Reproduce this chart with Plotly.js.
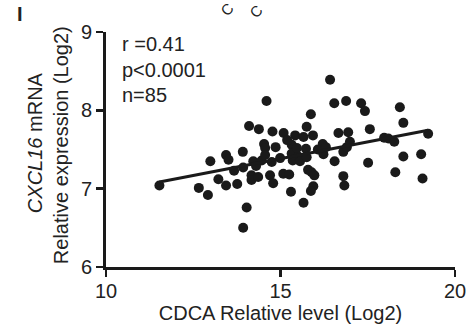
<!DOCTYPE html>
<html>
<head>
<meta charset="utf-8">
<script src="https://cdn.plot.ly/plotly-3.0.1.min.js"></script>
<style>html,body{margin:0;padding:0;background:#fff;}#chart{width:470px;height:331px;}</style>
</head>
<body>
<div id="chart"></div>
<script>
// CDCA relative level (Log2)
const cdca = [11.53,12.66,12.92,12.99,13.22,13.44,13.51,13.44,13.67,13.76,
              13.92,13.93,14.03,13.93,14.10,14.17,14.17,14.22,14.36,14.38,
              14.46,14.53,14.56,14.60,14.70,14.75,14.77,14.79,14.86,15.09,
              15.08,15.25,15.30,15.32,15.32,15.35,15.42,15.51,15.56,15.66,
              15.66,15.73,15.75,15.75,15.79,15.87,15.89,15.97,15.94,15.87,
              15.93,16.21,16.23,16.42,16.54,16.55,16.66,16.80,16.80,16.83,
              16.88,16.90,16.94,16.99,17.31,17.42,17.51,17.56,17.97,18.09,
              18.26,18.29,18.42,18.52,18.52,19.03,19.07,19.23,14.56,14.99,
              15.47,16.07,16.30,15.19,14.30];
// CXCL16 mRNA relative expression (Log2)
const cxcl16 = [7.04,7.01,6.92,7.35,7.12,7.43,7.37,7.04,7.23,7.06,
                7.47,7.27,6.76,6.50,7.80,7.17,7.11,7.35,7.15,7.76,
                7.36,7.57,7.52,8.12,7.17,7.34,7.73,7.07,7.53,7.71,
                7.19,7.18,6.96,7.56,7.45,7.36,7.68,7.41,7.35,7.66,
                6.82,7.51,7.79,7.40,7.24,7.95,7.21,7.17,7.03,6.97,
                7.68,7.57,7.44,8.39,8.09,7.35,7.71,7.47,7.16,7.04,
                8.12,7.53,7.72,7.60,8.09,7.99,7.33,7.76,7.65,7.64,
                7.60,7.21,8.04,7.84,7.41,7.44,7.13,7.70,7.43,7.39,
                7.52,7.50,7.53,7.62,7.29];
const xTicks = [10, 15, 20];
const yTicks = [6, 7, 8, 9];
const statLines = ["r =0.41", "p<0.0001", "n=85"];

// least-squares fit from the data
const n = cdca.length;
const mx = cdca.reduce((a,b)=>a+b,0)/n;
const my = cxcl16.reduce((a,b)=>a+b,0)/n;
let sxy = 0, sxx = 0;
for (let i=0;i<n;i++){ sxy += (cdca[i]-mx)*(cxcl16[i]-my); sxx += (cdca[i]-mx)**2; }
const slope = sxy/sxx, icpt = my - slope*mx;
const xmin = Math.min(...cdca), xmax = Math.max(...cdca);

const font = {family: "Liberation Sans, Arial, sans-serif", color: "#222"};
const F = s => Object.assign({size: s}, font);

const traces = [
  {x: cdca, y: cxcl16, type: "scatter", mode: "markers",
   marker: {size: 10, color: "#1a1a1a"}, cliponaxis: false, hoverinfo: "skip"},
  {x: [xmin, xmax], y: [icpt + slope*xmin, icpt + slope*xmax], type: "scatter", mode: "lines",
   line: {color: "#1a1a1a", width: 3}, hoverinfo: "skip"}
];

const W = 349, H = 234.7, L = 106, T = 32;
const px = v => (v - L)/W, py = v => (T + H - v)/H;

const annotations = statLines.map((t,i)=>({
  text: t, xref: "paper", yref: "paper", x: px(120), y: py(44 + i*25.5),
  xanchor: "left", yanchor: "middle", showarrow: false, font: F(20)
}));
annotations.push(
  {text: "<i>CXCL16</i> mRNA", xref: "paper", yref: "paper", x: px(35), y: py(143),
   textangle: -90, showarrow: false, xanchor: "center", yanchor: "middle", font: F(20)},
  {text: "Relative expression (Log2)", xref: "paper", yref: "paper", x: px(61), y: py(145),
   textangle: -90, showarrow: false, xanchor: "center", yanchor: "middle", font: F(20)},
  {text: "<b>I</b>", xref: "paper", yref: "paper", x: px(20), y: py(14),
   showarrow: false, xanchor: "center", yanchor: "middle", font: F(20)},
  {text: "C", xref: "paper", yref: "paper", x: px(227), y: py(10), textangle: -45,
   showarrow: false, xanchor: "center", yanchor: "middle", font: F(15)},
  {text: "C", xref: "paper", yref: "paper", x: px(256), y: py(12), textangle: -45,
   showarrow: false, xanchor: "center", yanchor: "middle", font: F(15)}
);

const axisCommon = {
  showline: true, linecolor: "#1a1a1a", linewidth: 3, mirror: false,
  ticks: "outside", ticklen: 7, tickwidth: 2.5, tickcolor: "#1a1a1a",
  showgrid: false, zeroline: false, fixedrange: true,
  tickfont: F(20)
};

const layout = {
  width: 470, height: 331,
  margin: {l: L, r: 470 - L - W, t: T, b: 331 - T - H},
  paper_bgcolor: "#fff", plot_bgcolor: "#fff",
  showlegend: false,
  xaxis: Object.assign({}, axisCommon, {range: [10, 20], tickvals: xTicks, ticktext: xTicks.map(String),
    ticklabelstandoff: -3,
    title: {text: "CDCA Relative level (Log2)", font: F(20), standoff: 4}}),
  yaxis: Object.assign({}, axisCommon, {range: [6, 9], tickvals: yTicks, ticktext: yTicks.map(String)}),
  annotations: annotations
};

Plotly.newPlot("chart", traces, layout, {displayModeBar: false, staticPlot: true});
</script>
</body>
</html>
